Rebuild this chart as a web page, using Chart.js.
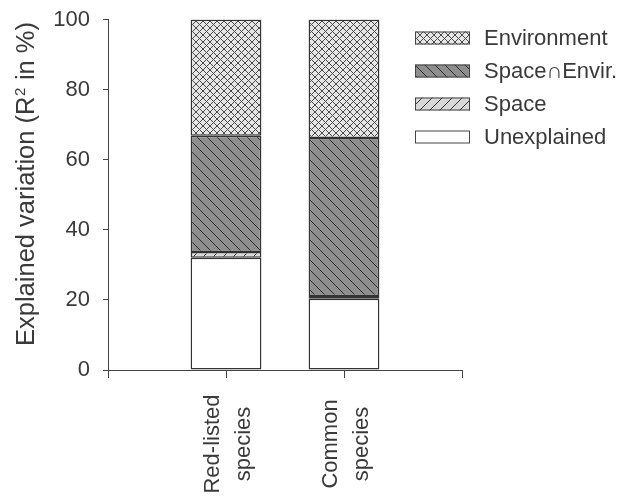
<!DOCTYPE html>
<html>
<head>
<meta charset="utf-8">
<script src="https://cdn.jsdelivr.net/npm/chart.js@4.4.1/dist/chart.umd.min.js"></script>
<style>
  html, body { margin: 0; padding: 0; background: #fff; }
  #wrap { width: 617px; height: 500px; }
</style>
</head>
<body>
<div id="wrap"><canvas id="chart" width="617" height="500"></canvas></div>
<script>
// Variance partitioning of species composition (R² in %)
const categories = [['Red-listed', 'species'], ['Common', 'species']];
const seriesNames = ['Unexplained', 'Space', 'Space\u2229Envir.', 'Environment'];
const unexplained = [32.0, 20.3];
const space = [1.7, 0.8];
const spaceEnvir = [33.1, 45.1];
const environment = [33.2, 33.8];
const yTicks = [0, 20, 40, 60, 80, 100];
// Axis title pieces: base text, superscript, tail
const yTitle = ['Explained variation (R', '2', ' in %)'];

const FONT = "'Liberation Sans', Arial, 'DejaVu Sans', sans-serif";
const INK = '#3a3a3a';

// Hatched fills built from small repeating tiles
function tile(size, bg, ink, draw) {
  const c = document.createElement('canvas');
  c.width = size; c.height = size;
  const g = c.getContext('2d');
  g.fillStyle = bg;
  g.fillRect(0, 0, size, size);
  g.strokeStyle = ink;
  g.lineWidth = 1;
  draw(g, size);
  return document.getElementById('chart').getContext('2d').createPattern(c, 'repeat');
}
const line = (g, x1, y1, x2, y2) => { g.beginPath(); g.moveTo(x1, y1); g.lineTo(x2, y2); g.stroke(); };

const fills = [
  '#ffffff',
  tile(10, '#d8d8d8', '#333', (g, s) => { line(g, -1, s + 1, s + 1, -1); }),
  tile(10, '#8e8e8e', '#2e2e2e', (g, s) => { line(g, -1, -1, s + 1, s + 1); }),
  tile(7, '#e6e6e6', '#4a4a4a', (g, s) => { line(g, -1, -1, s + 1, s + 1); line(g, -1, s + 1, s + 1, -1); })
];
const values = [unexplained, space, spaceEnvir, environment];

const datasets = seriesNames.map((name, k) => ({
  label: name,
  data: values[k].map((v, i) => ({ x: i + 1, y: v })),
  backgroundColor: fills[k],
  borderColor: '#333',
  borderWidth: 1.5,
  borderSkipped: false,
  barPercentage: 0.6,
  categoryPercentage: 1
}));

// Legend stacked top-down in reverse drawing order
const legendPlugin = {
  id: 'sideLegend',
  afterDraw(chart) {
    const ctx = chart.ctx;
    const sets = chart.data.datasets.slice().reverse();
    ctx.save();
    ctx.font = '22px ' + FONT;
    ctx.textBaseline = 'middle';
    ctx.textAlign = 'left';
    sets.forEach((ds, j) => {
      const cy = 38 + j * 33;
      ctx.fillStyle = ds.backgroundColor;
      ctx.fillRect(415, cy - 6.5, 55, 13);
      ctx.strokeStyle = '#444';
      ctx.lineWidth = 1;
      ctx.strokeRect(415.5, cy - 6, 54, 12);
      ctx.fillStyle = INK;
      ctx.fillText(ds.label, 484, cy + 1);
    });
    ctx.restore();
  }
};

// Two-line rotated category labels, centred under each tick
const catLabelPlugin = {
  id: 'catLabels',
  afterDraw(chart) {
    const ctx = chart.ctx;
    const xs = chart.scales.x;
    const lh = 31;
    ctx.save();
    ctx.font = '22px ' + FONT;
    ctx.fillStyle = INK;
    ctx.textAlign = 'center';
    ctx.textBaseline = 'middle';
    categories.forEach((lines, i) => {
      const px = xs.getPixelForValue(i + 1);
      lines.forEach((t, j) => {
        const off = (j - (lines.length - 1) / 2) * lh + 2;
        ctx.save();
        ctx.translate(px + off, 444);
        ctx.rotate(-Math.PI / 2);
        ctx.fillText(t, 0, 0);
        ctx.restore();
      });
    });
    ctx.restore();
  }
};

// Rotated value-axis title with a raised superscript
const yTitlePlugin = {
  id: 'yTitle',
  afterDraw(chart) {
    const ctx = chart.ctx;
    const big = '25.5px ' + FONT, small = '15px ' + FONT;
    ctx.save();
    ctx.fillStyle = INK;
    ctx.textBaseline = 'alphabetic';
    ctx.textAlign = 'left';
    ctx.font = big; const w0 = ctx.measureText(yTitle[0]).width;
    const w2 = ctx.measureText(yTitle[2]).width;
    ctx.font = small; const w1 = ctx.measureText(yTitle[1]).width + 1;
    const total = w0 + w1 + w2;
    ctx.translate(34, 184);
    ctx.rotate(-Math.PI / 2);
    let x = -total / 2;
    ctx.font = big; ctx.fillText(yTitle[0], x, 0); x += w0 + 0.5;
    ctx.font = small; ctx.fillText(yTitle[1], x, -9); x += w1 - 0.5;
    ctx.font = big; ctx.fillText(yTitle[2], x, 0);
    ctx.restore();
  }
};

new Chart(document.getElementById('chart'), {
  type: 'bar',
  data: { datasets },
  plugins: [legendPlugin, catLabelPlugin, yTitlePlugin],
  options: {
    responsive: false,
    animation: false,
    layout: { padding: { top: 19.5, right: 155, left: 0, bottom: 0 } },
    plugins: { legend: { display: false }, tooltip: { enabled: false } },
    scales: {
      x: {
        type: 'linear',
        min: 0,
        max: categories.length + 1,
        offset: false,
        stacked: true,
        afterFit: (s) => { s.height = 130; s.paddingLeft = 0; s.paddingRight = 0; },
        afterBuildTicks: (s) => { s.ticks = [0, 1, 2, 3].map(v => ({ value: v })); },
        ticks: { display: true, callback: () => '' },
        border: { color: '#444', width: 1 },
        grid: { offset: false, drawOnChartArea: false, drawTicks: true, tickLength: 8, color: '#444' }
      },
      y: {
        stacked: true,
        min: 0,
        max: 100,
        afterFit: (s) => { s.width = 108; s.paddingTop = 0; s.paddingBottom = 0; },
        afterBuildTicks: (s) => { s.ticks = yTicks.map(v => ({ value: v })); },
        ticks: { color: INK, font: { family: FONT, size: 22 }, padding: 13 },
        border: { color: '#444', width: 1 },
        grid: { drawOnChartArea: false, drawTicks: true, tickLength: 5, color: '#444' }
      }
    }
  }
});
</script>
</body>
</html>
